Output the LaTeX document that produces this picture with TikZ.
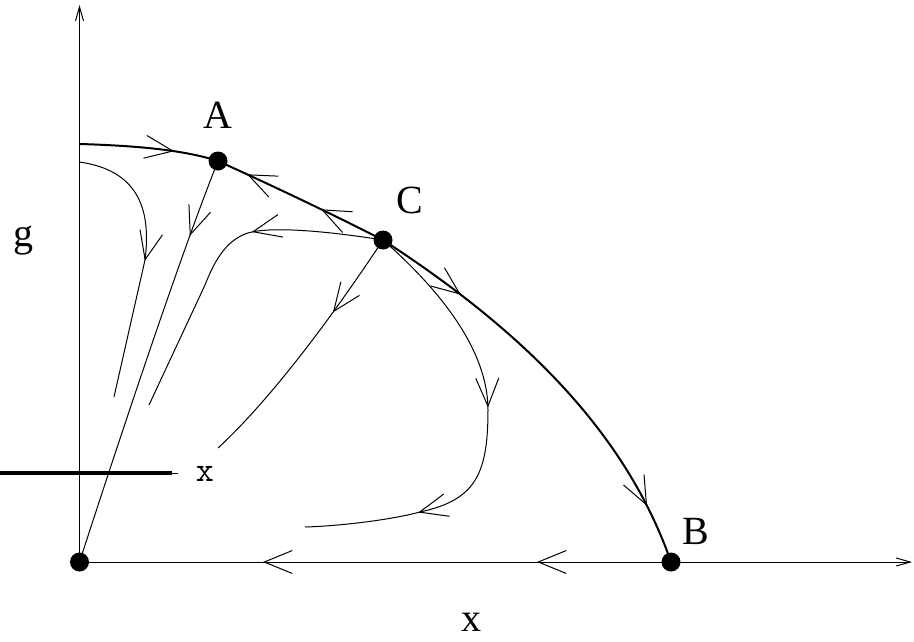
\documentclass[tikz,border=0pt]{standalone}
\usepackage{fontspec}
\setmainfont{Liberation Serif}
\usetikzlibrary{arrows.meta,decorations.markings}
\tikzset{
  flowtip/.tip={Straight Barb[length=28pt,width=23pt,line width=1pt]},
  axistip/.tip={Straight Barb[length=14pt,width=8pt,line width=1pt]},
  dot/.style={circle,fill=black,inner sep=0pt,minimum size=19pt},
  thinline/.style={line width=1pt},
  mainline/.style={line width=2pt},
  lab/.style={font=\fontsize{40}{48}\selectfont, anchor=base, inner sep=0pt},
  smalllab/.style={font=\ttfamily\fontsize{35}{40}\selectfont, anchor=base, inner sep=0pt},
  marks/.style={postaction={decorate,decoration={markings,#1}}},
}
\begin{document}
\begin{tikzpicture}[x=1pt,y=-1pt]
\useasboundingbox (0,0) rectangle (914,641);
% fixed points
\node[dot] (O) at (79.5,562) {};
\node[dot] (A) at (218,161) {};
\node[dot] (C) at (383,240) {};
\node[dot] (B) at (671,562) {};
\coordinate (ytop) at (79.5,5);
\coordinate (xend) at (912,562);
\coordinate (gstart) at (79.5,144);
\coordinate (t1start) at (79.5,162);
\coordinate (t1end) at (114,397);
\coordinate (t3end) at (149,405);
\coordinate (t4end) at (218,448);
\coordinate (t5end) at (305,527);
\coordinate (hl) at (0,473);
\coordinate (hr) at (172,473);
\coordinate (hr2) at (178,473);
% axes
\draw[thinline,-{axistip}] (O.center) -- (ytop);
\draw[thinline,-{axistip}] (O.center) -- (xend);
\draw[thinline,marks={mark=at position 134pt with {\arrow{flowtip}},mark=at position 408pt with {\arrow{flowtip}}}] (B.center) -- (O.center);
% main curve
\draw[mainline,marks={mark=at position 95pt with {\arrow{flowtip}}}]
  (gstart) .. controls (150,146) and (190,152) .. (A.center);
\draw[mainline,marks={mark=at position 69pt with {\arrow{flowtip}},mark=at position 151pt with {\arrow{flowtip}}}]
  (C.center) .. controls (328,212) and (273,186) .. (A.center);
\draw[mainline,marks={mark=at position 95pt with {\arrow{flowtip}},mark=at position 379pt with {\arrow{flowtip}}}]
  (C.center) .. controls (520,329) and (625,430) .. (B.center);
% thin trajectories
\draw[thinline,marks={mark=at position 136pt with {\arrow{flowtip}}}]
  (t1start) .. controls (135,170) and (152,205) .. (145,260) -- (t1end);
\draw[thinline,marks={mark=at position 80pt with {\arrow{flowtip}}}]
  (A.center) .. controls (178,261) and (112,462) .. (O.center);
\draw[thinline,marks={mark=at position 132pt with {\arrow{flowtip}}}]
  (C.center) .. controls (320,230) and (265,226) .. (245,234)
  .. controls (225,242) and (214,262) .. (205,285) -- (t3end);
\draw[thinline,marks={mark=at position 88pt with {\arrow{flowtip}}}]
  (C.center) .. controls (330,320) and (270,400) .. (t4end);
\draw[thinline,marks={mark=at position 203pt with {\arrow{flowtip}},mark=at position 345pt with {\arrow{flowtip}}}]
  (C.center) .. controls (440,290) and (488,350) .. (488,410)
  .. controls (488,475) and (475,500) .. (420,512)
  .. controls (390,520) and (340,526) .. (t5end);
% thick marker line
\draw[line width=4pt] (hl) -- (hr);
\draw[thinline] (hr) -- (hr2);
% labels
\node[lab] (labA) at (218,128) {A};
\node[lab] (labC) at (410,213) {C};
\node[lab] (labB) at (696,544) {B};
\node[lab] (labg) at (23,246) {g};
\node[lab] (labx) at (471,631) {x};
\node[smalllab] (labsx) at (205,481) {x};
\end{tikzpicture}
\end{document}
